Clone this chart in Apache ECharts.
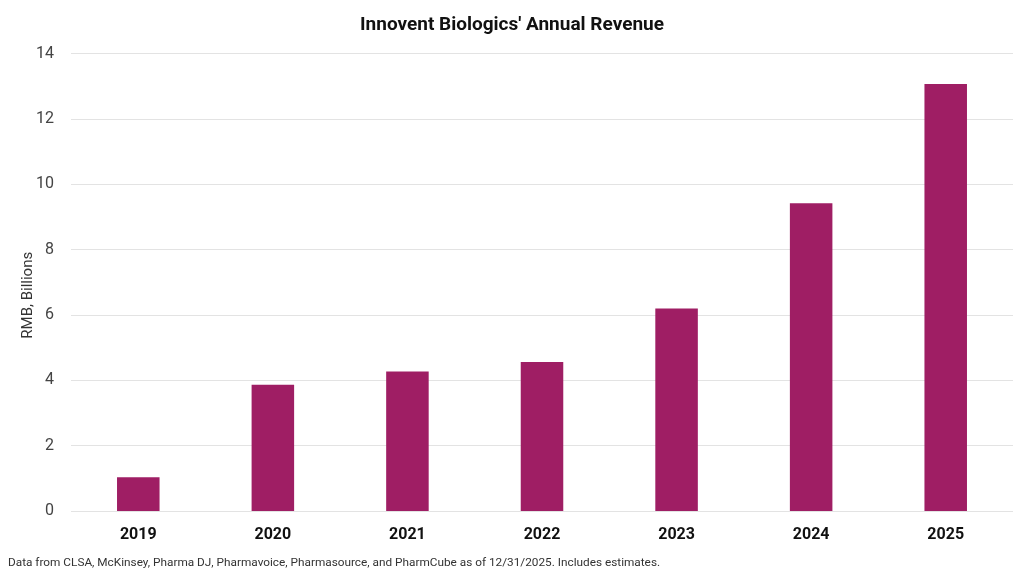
<!DOCTYPE html>
<html>
<head>
<meta charset="utf-8">
<script src="https://cdn.jsdelivr.net/npm/echarts@6/dist/echarts.min.js"></script>
<style>
  html, body { margin: 0; padding: 0; background: #fff; }
  #chart { width: 1024px; height: 576px; }
</style>
</head>
<body>
<div id="chart"></div>
<script>
// chart data
var years = ['2019', '2020', '2021', '2022', '2023', '2024', '2025'];
var revenue = [1.03, 3.86, 4.27, 4.56, 6.2, 9.42, 13.07];
var yTicks = [0, 2, 4, 6, 8, 10, 12, 14];

var chart = echarts.init(document.getElementById('chart'));

chart.setOption({
  animation: false,
  backgroundColor: '#ffffff',
  textStyle: { fontFamily: 'Roboto, "DejaVu Sans", sans-serif' },
  title: {
    text: "Innovent Biologics' Annual Revenue",
    left: 'center',
    top: 11,
    textStyle: { fontSize: 19, fontWeight: 'bold', color: '#111' }
  },
  graphic: [{
    type: 'text',
    left: 8,
    top: 557,
    style: {
      text: 'Data from CLSA, McKinsey, Pharma DJ, Pharmavoice, Pharmasource, and PharmCube as of 12/31/2025. Includes estimates.',
      fontSize: 11.8,
      fill: '#333',
      fontFamily: 'Roboto, sans-serif'
    }
  }],
  grid: { left: 71, right: 11, top: 53.5, bottom: 65 },
  xAxis: {
    type: 'category',
    data: years,
    axisLine: { show: false },
    axisTick: { show: false },
    axisLabel: { fontSize: 16, fontWeight: 'bold', color: '#111', margin: 16 }
  },
  yAxis: {
    type: 'value',
    min: yTicks[0],
    max: yTicks[yTicks.length - 1],
    interval: 2,
    name: 'RMB, Billions',
    nameLocation: 'middle',
    nameGap: 35,
    nameMoveOverlap: false,
    nameTextStyle: { fontSize: 15, color: '#333', padding: [0, 0, 0, -26] },
    axisLabel: { fontSize: 16, color: '#444', margin: 17 },
    splitLine: { lineStyle: { color: '#e3e3e3', width: 1 } },
    axisLine: { show: false },
    axisTick: { show: false }
  },
  series: [{
    type: 'bar',
    data: revenue,
    barWidth: '31.6%',
    itemStyle: { color: '#9f1e64' }
  }]
});
</script>
</body>
</html>
